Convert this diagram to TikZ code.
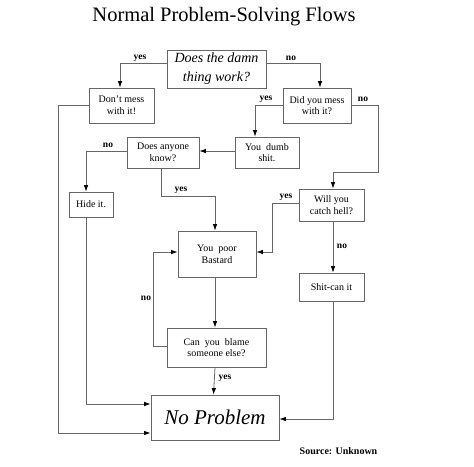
\documentclass[tikz,border=0pt]{standalone}
\usepackage{fontspec}
\setmainfont{Liberation Serif}
\usetikzlibrary{arrows.meta, positioning, calc}
\usepackage{xcolor}

\begin{document}
\begin{tikzpicture}[x=1pt, y=-1pt,
	box/.style={rectangle, draw=black!60, line width=.8pt, inner sep=0pt, align=center, font=\fontsize{10}{11.7}\selectfont},
	arrow/.style={-{Latex[length=6.5pt, width=4.5pt, color=black]}, draw=black!60, line width=.8pt},
	lbl/.style={font=\fontsize{9.5}{11}\selectfont\bfseries},
	every node/.style={align=center}
	]
	\useasboundingbox (0,0) rectangle (474,466);
	\node[font=\fontsize{20.5}{24}\selectfont] (title) at (224,17) {Normal Problem-Solving Flows};
	% boxes
	\node[box, minimum width=99pt, minimum height=38pt, font=\fontsize{14}{19}\selectfont\itshape] (work) at (216.5,69) {Does the damn\\thing work?};
	\node[box, minimum width=65pt, minimum height=35pt] (dont) at (121.5,105.5) {Don't mess\\with it!};
	\node[box, minimum width=68pt, minimum height=35pt] (mess) at (317,105.5) {Did you mess\\with it?};
	\node[box, minimum width=72pt, minimum height=31pt] (anyone) at (163,152.5) {Does anyone\\know?};
	\node[box, minimum width=64pt, minimum height=31pt] (dumb) at (267,152.5) {You~~dumb\\shit.};
	\node[box, minimum width=44pt, minimum height=25pt] (hide) at (91,204.5) {Hide it.};
	\node[box, minimum width=65pt, minimum height=32pt] (hell) at (331.5,205) {Will you\\catch hell?};
	\node[box, minimum width=78pt, minimum height=46pt] (poor) at (217,254) {You~~poor\\Bastard};
	\node[box, minimum width=65pt, minimum height=28pt] (shitcan) at (331.5,287) {Shit-can it};
	\node[box, minimum width=99pt, minimum height=39pt] (blame) at (216.5,347.5) {Can~~you~~blame\\someone else?};
	\node[box, minimum width=128pt, minimum height=45pt, font=\fontsize{21}{24}\selectfont\itshape] (noprob) at (215,417.5) {No Problem};
	% connectors
	\draw[arrow] ([yshift=6pt]work.west) -| ([xshift=-1.5pt]dont.north);
	\draw[arrow] ([yshift=6pt]work.east) -| ([xshift=3pt]mess.north);
	\draw[arrow] (dont.west) -- ++(-30,0) |- ([yshift=-15.5pt]noprob.west);
	\draw[arrow] (mess.west) -| ([xshift=-12pt]dumb.north);
	\draw[arrow] (mess.east) -- ++(27,0) -- ++(0,67) -| ([xshift=1.5pt]hell.north);
	\draw[arrow] ([yshift=1.5pt]dumb.west) -- ([yshift=1.5pt]anyone.east);
	\draw[arrow] ([yshift=1.5pt]anyone.west) -| ([xshift=-5pt]hide.north);
	\draw[arrow] ([xshift=-2pt]anyone.south) -- ++(0,28) -| ([xshift=-2pt]poor.north);
	\draw[arrow] ([yshift=2pt]hell.west) -- ++(-26,0) |- ([yshift=2pt]poor.east);
	\draw[arrow] ([xshift=1.5pt]hell.south) -- ([xshift=1.5pt]shitcan.north);
	\draw[arrow] ([xshift=-2pt]poor.south) -- ([xshift=-1.5pt]blame.north);
	\draw[arrow] ([yshift=1.5pt]blame.west) -- ++(-13,0) |- ([yshift=2pt]poor.west);
	\draw[arrow] ([xshift=-1.5pt]blame.south) -- ([xshift=-1.5pt]noprob.north);
	\draw[arrow] ([xshift=-5pt]hide.south) |- ([yshift=13.5pt]noprob.west);
	\draw[arrow] ([xshift=1.5pt]shitcan.south) |- ([yshift=-1.5pt]noprob.east);
	% labels
	\node[lbl] (l1) at (140,58) {yes};
	\node[lbl] (l2) at (291,58) {no};
	\node[lbl] (l3) at (266,99) {yes};
	\node[lbl] (l4) at (363,99) {no};
	\node[lbl] (l5) at (108,145) {no};
	\node[lbl] (l6) at (181,190) {yes};
	\node[lbl] (l7) at (286,197) {yes};
	\node[lbl] (l8) at (342,246) {no};
	\node[lbl] (l9) at (146,298) {no};
	\node[lbl] (l10) at (225,378) {yes};
	\node[lbl, font=\fontsize{10}{12}\selectfont\bfseries] (src) at (338.5,451) {Source: Unknown};
\end{tikzpicture}
\end{document}
